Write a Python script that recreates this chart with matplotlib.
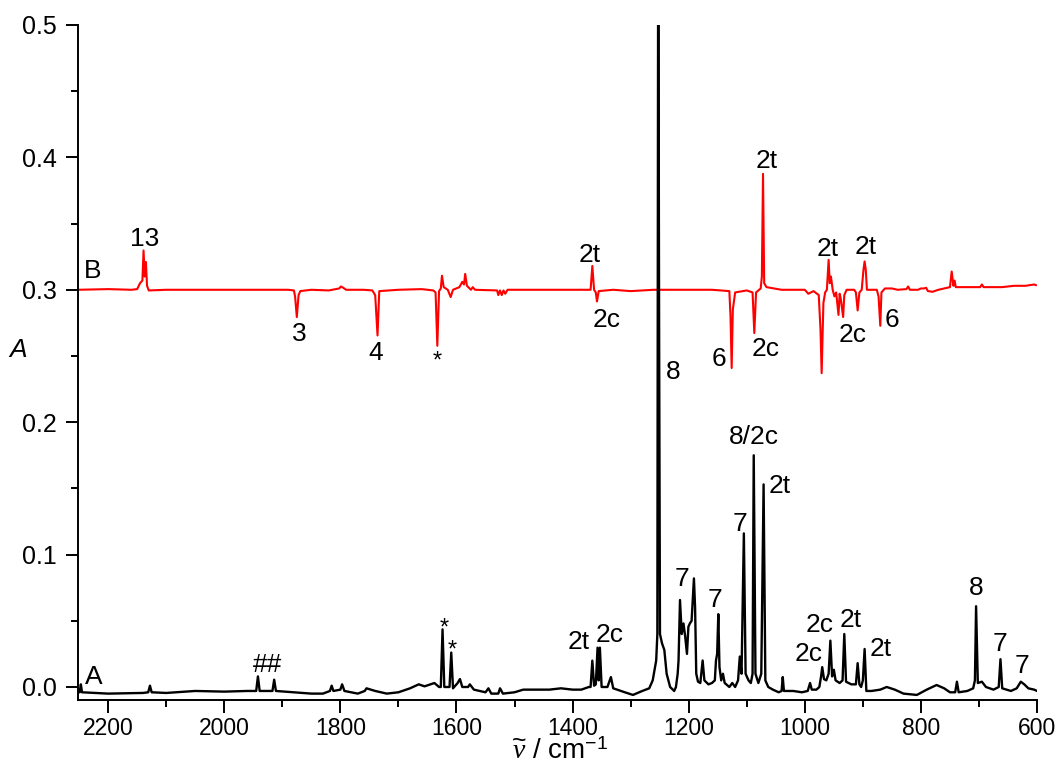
import matplotlib
matplotlib.use("Agg")
import matplotlib.pyplot as plt
from matplotlib.ticker import MultipleLocator

plt.rcParams['font.family'] = ['Liberation Sans', 'DejaVu Sans']
plt.rcParams['mathtext.fontset'] = 'custom'
plt.rcParams['mathtext.rm'] = 'Liberation Sans'
plt.rcParams['mathtext.it'] = 'Liberation Serif:italic'

# ---- Trace A (black): wavenumber / absorbance points ----
a_nu = [2252, 2249, 2247, 2245, 2200, 2140, 2131, 2128, 2125, 2100, 2050, 2000,
        1960, 1945, 1942, 1939, 1917, 1914, 1911, 1880, 1850, 1830, 1818, 1815,
        1812, 1800, 1797, 1793, 1770, 1758, 1755, 1740, 1720, 1700, 1680, 1665,
        1655, 1645, 1638, 1630, 1627, 1624, 1621, 1612, 1609, 1606, 1598, 1594,
        1590, 1580, 1577, 1570, 1550, 1545, 1540, 1528, 1525, 1520, 1500, 1485,
        1460, 1440, 1420, 1400, 1385, 1372, 1369, 1366, 1363, 1360, 1357, 1355,
        1353, 1350, 1340, 1334, 1330, 1310, 1296, 1280, 1268, 1262, 1256, 1254,
        1252.5, 1251, 1249.5, 1246, 1242, 1238, 1232, 1225, 1222, 1219, 1217.5,
        1215, 1212, 1209, 1206, 1203, 1200.5, 1198, 1195, 1191, 1189, 1187, 1184,
        1180, 1176, 1173, 1166, 1160, 1155, 1153, 1151, 1149, 1147, 1144, 1141,
        1138, 1130, 1125, 1120, 1115, 1112, 1109, 1105, 1102, 1097, 1093, 1090,
        1088, 1085, 1080, 1075, 1071, 1068, 1063, 1055, 1045, 1040, 1038, 1036,
        1020, 1005, 995, 991, 988, 980, 975, 972, 970, 967, 963, 959, 956, 953,
        950, 947, 940, 935, 932, 929, 920, 912, 909, 906, 903, 900, 897, 894, 885,
        870, 859, 845, 830, 807, 790, 773, 760, 750, 741, 738, 735, 720, 710, 707,
        705, 702, 695, 688, 675, 666, 663, 660, 645, 635, 628, 622, 615, 605, 600]
a_abs = [-0.003, -0.004, 0.002, -0.004, -0.005, -0.0045, -0.004, 0.001, -0.004,
         -0.0045, -0.003, -0.0035, -0.003, -0.003, 0.008, -0.003, -0.003, 0.0055,
         -0.003, -0.004, -0.005, -0.005, -0.003, 0.001, -0.003, -0.002, 0.002,
         -0.003, -0.005, -0.003, -0.001, -0.003, -0.005, -0.004, -0.001, 0.002,
         0.0005, 0.002, 0.003, 0.0, 0.0, 0.0435, 0.0, 0.0, 0.026, -0.001, 0.003,
         0.006, 0.0, 0.0, 0.002, -0.002, -0.004, -0.001, -0.005, -0.005, -0.001,
         -0.005, -0.004, -0.002, -0.002, -0.002, -0.001, -0.002, -0.002, 0.0, 0.0,
         0.0199, 0.001, 0.002, 0.0297, 0.005, 0.0297, 0.0, 0.0, 0.0075, -0.001,
         -0.004, -0.006, -0.003, -0.001, 0.005, 0.02, 0.04, 0.6, 0.275, 0.04,
         0.033, 0.028, 0.01, 0.0, -0.003, 0.0, 0.01, 0.02, 0.0657, 0.040, 0.048,
         0.038, 0.025, 0.0455, 0.048, 0.05, 0.082, 0.06, 0.01, 0.004, 0.003, 0.02,
         0.005, 0.002, 0.003, 0.005, 0.02, 0.025, 0.055, 0.015, 0.005, 0.01, 0.003,
         0.0, 0.003, 0.0, 0.005, 0.023, 0.01, 0.116, 0.01, 0.005, 0.003, 0.01,
         0.175, 0.01, 0.003, 0.01, 0.153, 0.005, 0.0, -0.002, -0.004, -0.003,
         0.0075, -0.003, -0.003, -0.004, -0.003, 0.003, -0.002, -0.002, 0.0, 0.008,
         0.015, 0.006, 0.005, 0.01, 0.035, 0.008, 0.013, 0.005, 0.003, 0.005, 0.04,
         0.004, 0.002, 0.002, 0.018, 0.002, 0.0, 0.005, 0.0287, -0.003, -0.003,
         -0.002, 0.0, -0.002, -0.005, -0.006, -0.002, 0.0015, -0.001, -0.004,
         -0.004, 0.004, -0.004, -0.003, -0.001, 0.005, 0.061, 0.003, 0.004, 0.0,
         -0.002, 0.0, 0.021, -0.001, -0.003, -0.001, 0.004, 0.002, -0.001, -0.002,
         -0.003]

# ---- Trace B (red): wavenumber / absorbance points ----
b_nu = [2252, 2200, 2160, 2150, 2145, 2141, 2139, 2137, 2135, 2133, 2130, 2100,
        2050, 2000, 1950, 1890, 1880, 1878, 1875, 1872, 1869, 1850, 1820, 1802,
        1799, 1795, 1790, 1760, 1745, 1740, 1736, 1733, 1700, 1660, 1640, 1636,
        1633, 1630, 1627, 1625, 1622, 1615, 1610, 1606, 1595, 1590, 1587, 1585,
        1582, 1575, 1572, 1568, 1530, 1528, 1525, 1522, 1519, 1516, 1512, 1450,
        1400, 1369, 1366, 1363, 1360, 1358, 1355, 1330, 1300, 1260, 1200, 1160,
        1130, 1128, 1126, 1124, 1120, 1100, 1090, 1087, 1084, 1076, 1074, 1072,
        1070, 1066, 1040, 1000, 994, 985, 976, 973, 971, 968, 965, 962, 959, 957,
        955, 952, 949, 946, 942, 940, 938, 934, 932, 928, 915, 912, 909, 906, 902,
        899, 897, 895, 893, 876, 873, 870, 868, 862, 850, 840, 825, 822, 819, 805,
        800, 795, 791, 788, 780, 770, 760, 750, 747, 744, 742, 740, 720, 698, 695,
        692, 660, 640, 620, 605, 602]
b_abs = [0.3, 0.3005, 0.3, 0.3005, 0.305, 0.307, 0.3297, 0.31, 0.321, 0.303,
         0.2995, 0.3, 0.3, 0.3, 0.3, 0.3, 0.2995, 0.295, 0.2794, 0.296, 0.299, 0.3,
         0.2995, 0.301, 0.3025, 0.3015, 0.3, 0.3, 0.2995, 0.296, 0.2655, 0.299,
         0.3, 0.3005, 0.2995, 0.298, 0.2577, 0.299, 0.301, 0.3106, 0.302, 0.3,
         0.2945, 0.3, 0.302, 0.306, 0.304, 0.312, 0.303, 0.3, 0.302, 0.3, 0.2995,
         0.296, 0.2995, 0.296, 0.2995, 0.297, 0.3, 0.3, 0.3, 0.3, 0.318, 0.3, 0.298,
         0.2912, 0.299, 0.3, 0.299, 0.3, 0.3, 0.3, 0.299, 0.28, 0.2409, 0.285,
         0.298, 0.2995, 0.298, 0.2673, 0.298, 0.301, 0.31, 0.3876, 0.305, 0.302,
         0.3, 0.3, 0.297, 0.299, 0.296, 0.27, 0.237, 0.29, 0.298, 0.3, 0.3226,
         0.305, 0.31, 0.3, 0.295, 0.298, 0.281, 0.297, 0.293, 0.2794, 0.296, 0.3,
         0.3, 0.298, 0.2844, 0.298, 0.3, 0.315, 0.3214, 0.315, 0.3, 0.3, 0.295,
         0.2728, 0.298, 0.301, 0.301, 0.3, 0.3005, 0.3025, 0.3, 0.3, 0.301, 0.301,
         0.3015, 0.299, 0.2985, 0.3, 0.301, 0.302, 0.3138, 0.303, 0.307, 0.302,
         0.302, 0.302, 0.304, 0.302, 0.302, 0.303, 0.303, 0.304, 0.3035]

# ---- Peak annotations: (text, wavenumber, absorbance) ----
labels_a = [("##", 1926, 0.0166), ("2t", 1390, 0.034), ("2c", 1336, 0.039),
            ("8", 1226, 0.238), ("7", 1211, 0.0815), ("7", 1154, 0.066),
            ("7", 1111, 0.123), ("8/2c", 1087, 0.189), ("2t", 1043, 0.152),
            ("2c", 993, 0.025), ("2c", 974, 0.047), ("2t", 921, 0.0506),
            ("2t", 869, 0.029), ("8", 705, 0.0747), ("7", 664.5, 0.0325),
            ("7", 626.5, 0.0158)]
labels_b = [("13", 2137, 0.338), ("3", 1871, 0.2664), ("4", 1739, 0.2525),
            ("2t", 1370, 0.326), ("2c", 1342, 0.277), ("6", 1148, 0.248),
            ("2c", 1068, 0.255), ("2t", 1066, 0.397), ("2t", 960, 0.331),
            ("2c", 917, 0.266), ("2t", 895, 0.332), ("6", 850, 0.277)]
# asterisks: (wavenumber, baseline absorbance)
stars = [(1632.5, 0.241), (1621, 0.0397), (1607.5, 0.0233)]
trace_names = [("B", 2241, 0.3143), ("A", 2240, 0.0075)]

fig = plt.figure(figsize=(10.62, 7.78), dpi=100)
ax = fig.add_axes([0.0734, 0.1003, 0.9031, 0.8676])

ax.plot(b_nu, b_abs, color='#ff0000', lw=1.5, zorder=2)
ax.plot(a_nu, a_abs, color='black', lw=1.7, zorder=3)

ax.set_xlim(2252, 600)
ax.set_ylim(-0.0098, 0.5)

fs_lab = 19
for t, x, y in labels_a + labels_b:
    ax.text(x, y, t, ha='center', va='center', fontsize=fs_lab, zorder=4)
for x, y in stars:
    ax.text(x, y, "*", ha='center', va='baseline', fontsize=17, zorder=4)
for t, x, y in trace_names:
    ax.text(x, y, t, ha='left', va='center', fontsize=fs_lab, zorder=4)

for s in ('top', 'right'):
    ax.spines[s].set_visible(False)
for s in ('left', 'bottom'):
    ax.spines[s].set_linewidth(1.4)

ax.xaxis.set_major_locator(MultipleLocator(200))
ax.xaxis.set_minor_locator(MultipleLocator(100))
ax.yaxis.set_major_locator(MultipleLocator(0.1))
ax.yaxis.set_minor_locator(MultipleLocator(0.05))
ax.tick_params(which='major', direction='out', length=9, width=1.4)
ax.tick_params(which='minor', direction='out', length=5, width=1.4)
ax.tick_params(axis='x', which='major', labelsize=16.5, pad=3)
ax.tick_params(axis='y', which='major', labelsize=18, pad=6)
ax.set_yticks([0.0, 0.1, 0.2, 0.3, 0.4, 0.5])
ax.set_yticklabels(["0.0", "0.1", "0.2", "0.3", "0.4", "0.5"])

ax.text(-0.0626, 0.5185, "A", transform=ax.transAxes, ha='center',
        va='center', fontsize=19, style='italic')
ax.text(0.5026, -0.077, r"$\widetilde{\nu}$ / cm$^{-1}$", transform=ax.transAxes,
        ha='center', va='center', fontsize=20)

fig.savefig("out.png", dpi=100)
